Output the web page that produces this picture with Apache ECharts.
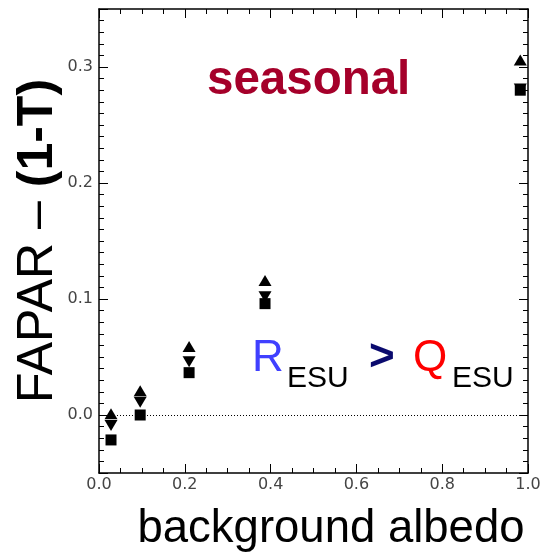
<!DOCTYPE html>
<html>
<head>
<meta charset="utf-8">
<script src="https://cdn.jsdelivr.net/npm/echarts@6/dist/echarts.min.js"></script>
<style>
  html, body { margin: 0; padding: 0; background: #fff; }
  #chart { width: 542px; height: 553px; }
</style>
</head>
<body>
<div id="chart"></div>
<script>
// Background albedo of each site group
const albedo = [0.028, 0.096, 0.21, 0.387, 0.982];
// FAPAR – (1-T) for the three estimates at each albedo
const upperVals = [0.001, 0.021, 0.059, 0.116, 0.306];
const lowerVals = [-0.009, 0.011, 0.046, 0.102, 0.281];
const meanVals = [-0.0215, 0.0, 0.0365, 0.096, 0.280];

const xTickLabels = ['0.0', '0.2', '0.4', '0.6', '0.8', '1.0'];

const toPairs = vals => albedo.map((a, i) => [a, vals[i]]);

const tickFont = { fontFamily: 'DejaVu Sans', fontSize: 16, color: '#444' };
const frameLine = { show: true, onZero: false, lineStyle: { color: '#000', width: 1.5 } };

function xAxisDef(pos, labels) {
  return {
    type: 'value', position: pos, min: 0, max: 1, interval: 0.2,
    axisLine: frameLine,
    axisTick: { show: true, inside: true, length: 9, lineStyle: { color: '#000', width: 1 } },
    minorTick: { show: true, splitNumber: 4, length: 5, lineStyle: { color: '#000', width: 1 } },
    splitLine: { show: false },
    axisLabel: labels ? Object.assign({ margin: 4, formatter: v => xTickLabels[Math.round(v / 0.2)] }, tickFont) : { show: false }
  };
}

function yAxisDef(pos, labels) {
  return {
    type: 'value', position: pos, min: -0.05, max: 0.35, splitNumber: 4,
    axisLine: frameLine,
    axisTick: { show: true, inside: true, length: 9, lineStyle: { color: '#000', width: 1 } },
    minorTick: { show: true, splitNumber: 10, length: 5, lineStyle: { color: '#000', width: 1 } },
    splitLine: { show: false },
    axisLabel: labels ? Object.assign({
      margin: 6, showMinLabel: false, showMaxLabel: false,
      formatter: v => v.toFixed(1)
    }, tickFont) : { show: false }
  };
}

const yAx = yAxisDef('left', true);
yAx.name = '{a|FAPAR – }{b|(1-T)}';
yAx.nameLocation = 'middle';
yAx.nameGap = 36;
yAx.nameRotate = 90;
yAx.nameMoveOverlap = false;
yAx.nameTextStyle = {
  rich: {
    a: { fontFamily: 'Liberation Sans', fontSize: 50, color: '#000' },
    b: { fontFamily: 'Liberation Sans', fontSize: 50, fontWeight: 'bold', color: '#000' }
  }
};

const xAx = xAxisDef('bottom', true);
xAx.name = 'background albedo';
xAx.nameLocation = 'middle';
xAx.nameGap = 33;
xAx.nameMoveOverlap = false;
xAx.nameTextStyle = { fontFamily: 'Liberation Sans', fontSize: 45.5, color: '#000', padding: [0, 0, 0, 35] };

const markStyle = { color: '#000', opacity: 1 };

const chart = echarts.init(document.getElementById('chart'));
chart.setOption({
  animation: false,
  backgroundColor: '#fff',
  grid: { left: 99, right: 14, top: 9, bottom: 80, containLabel: false, outerBoundsMode: 'none' },
  xAxis: [xAx, xAxisDef('top', false)],
  yAxis: [yAx, yAxisDef('right', false)],
  series: [
    {
      name: 'lower', type: 'scatter', symbol: 'triangle', symbolRotate: 180, symbolSize: [13, 11],
      itemStyle: markStyle, data: toPairs(lowerVals),
      markLine: {
        silent: true, symbol: ['none', 'none'], label: { show: false },
        lineStyle: { color: '#000', type: [1, 2], width: 1 },
        data: [{ yAxis: 0 }]
      }
    },
    {
      name: 'upper', type: 'scatter', symbol: 'triangle', symbolSize: [13, 11],
      itemStyle: markStyle, data: toPairs(upperVals)
    },
    {
      name: 'mean', type: 'scatter', symbol: 'rect', symbolSize: 11,
      itemStyle: markStyle, data: toPairs(meanVals)
    }
  ],
  graphic: [
    { type: 'text', left: 207, top: 57, style: { text: 'seasonal', font: 'bold 47.5px "Liberation Sans"', fill: '#a5002a' } },
    { type: 'text', left: 252, top: 337, style: { text: 'R', font: '44px "Liberation Sans"', fill: '#4040ff' } },
    { type: 'text', left: 287, top: 364, style: { text: 'ESU', font: '30px "Liberation Sans"', fill: '#000' } },
    { type: 'text', left: 369, top: 336, style: { text: '>', font: 'bold 44px "Liberation Sans"', fill: '#0a0a6e' } },
    { type: 'text', left: 413, top: 337, style: { text: 'Q', font: '44px "Liberation Sans"', fill: '#ff0000' } },
    { type: 'text', left: 452, top: 364, style: { text: 'ESU', font: '30px "Liberation Sans"', fill: '#000' } }
  ]
});
</script>
</body>
</html>
